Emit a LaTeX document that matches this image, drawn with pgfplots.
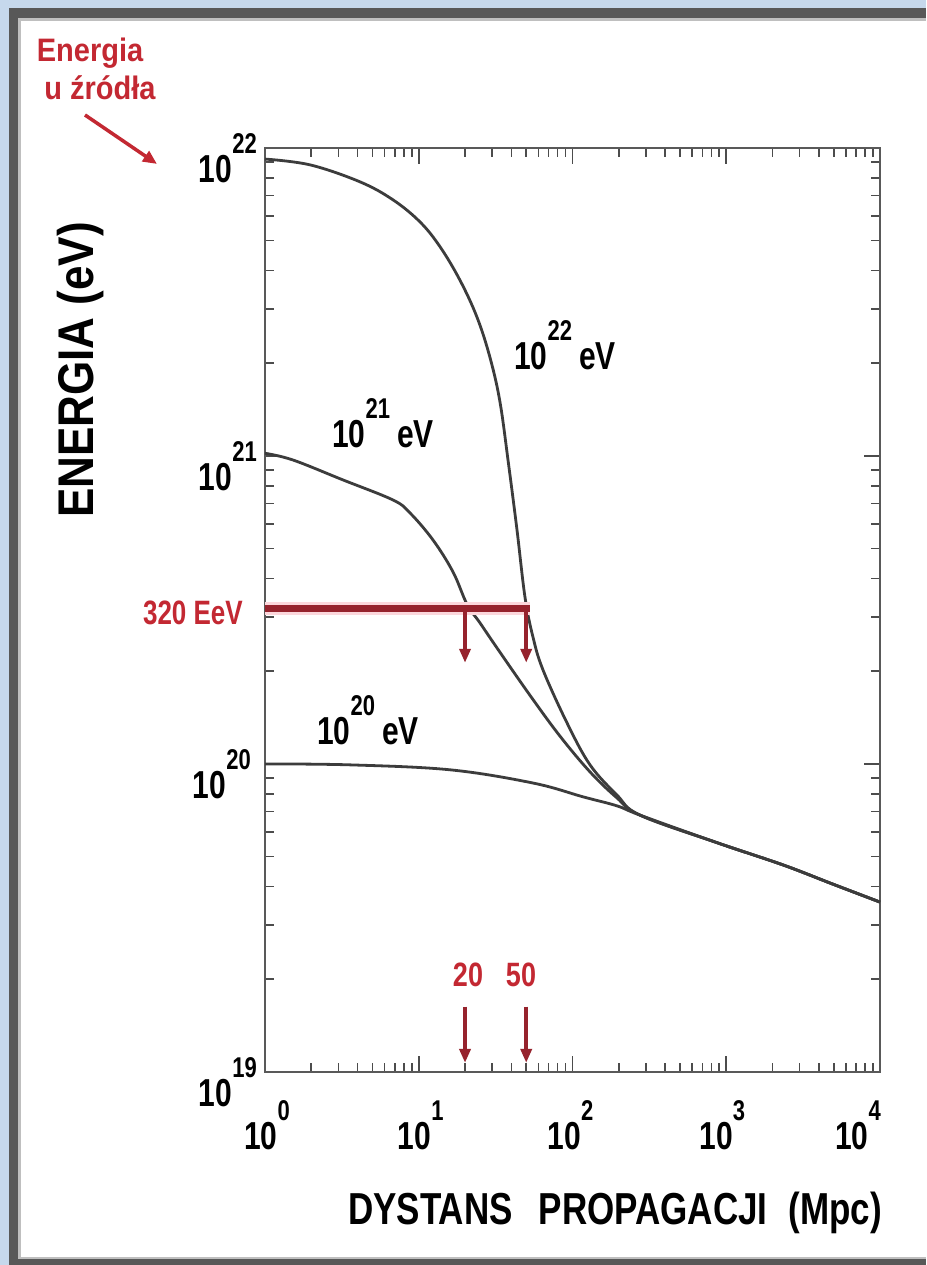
\documentclass[border=0pt]{standalone}
\usepackage{fontspec}
\setmainfont{Liberation Sans}
\usepackage{graphicx}
\usepackage{pgfplots}
\pgfplotsset{compat=1.18}
\usetikzlibrary{arrows.meta}
\definecolor{bgblue}{RGB}{198,216,236}
\definecolor{framegray}{RGB}{88,88,88}
\definecolor{curvec}{RGB}{60,60,60}
\definecolor{darkred}{RGB}{150,35,45}
\definecolor{txtred}{RGB}{195,40,50}
\definecolor{halo}{RGB}{252,215,220}
\newcommand{\tp}[1]{\scalebox{1}[1.3]{\fontsize{30}{30}\selectfont\bfseries 10\raisebox{23pt}{\fontsize{22}{22}\selectfont\bfseries #1}}}
\newcommand{\tpev}[1]{\scalebox{1}[1.3]{\fontsize{30}{30}\selectfont\bfseries 10\raisebox{23pt}{\fontsize{22}{22}\selectfont\bfseries #1}\hspace{7pt}eV}}
\begin{document}
\begin{tikzpicture}
\useasboundingbox (0pt,0pt) rectangle (926pt,1265pt);
\fill[bgblue] (0pt,0pt) rectangle (926pt,1265pt);
\fill[framegray] (9pt,0pt) rectangle (926pt,1257pt);
\fill[black!25] (18pt,6pt) rectangle (926pt,1247pt);
\fill[white] (21pt,8pt) rectangle (926pt,1244pt);
\begin{axis}[
  at={(265pt,193pt)}, anchor=south west,
  scale only axis, width=615pt, height=924pt,
  xmode=log, ymode=log,
  xmin=1, xmax=1e4, ymin=1e19, ymax=1e22,
  axis line style={line width=2.4pt, black!65},
  every tick/.style={black!70, line width=1.6pt},
  major tick length=16pt, minor tick length=9pt,
  xtick={1,10,100,1000,10000},
  xticklabels={\tp{0},\tp{1},\tp{2}\hspace*{8pt},\tp{3}\hspace*{12pt},\tp{4}\hspace*{48pt}},
  ytick={1e19,1e20,1e21,1e22},
  yticklabels={\tp{19},\tp{20}\hspace*{6pt},\tp{21},\tp{22}},
  xticklabel style={anchor=base, inner sep=0pt, yshift=-78pt, xshift=2pt},
  yticklabel style={anchor=base east, inner sep=0pt, xshift=-8pt, yshift=-35pt},
  clip=false,
]
% 10^22 eV
\addplot[curvec, line width=2.8pt, smooth, tension=0.6] coordinates {
(1,9.20e21) (1.963,8.81e21) (4.15,7.76e21) (6.81,6.78e21) (10.19,5.75e21)
(13.74,4.78e21) (18.54,3.72e21) (23.93,2.82e21) (29.04,2.09e21) (33.73,1.50e21)
(38.3,9.48e20) (43.55,5.75e20) (49.09,3.48e20) (55.34,2.58e20) (64.27,2.02e20)
(92.04,1.36e20) (130,9.93e19) (194.5,7.93e19) (274.8,6.82e19)
(871,5.55e19) (2339,4.70e19) (4943,4.07e19) (10000,3.56e19)};
% 10^21 eV
\addplot[curvec, line width=2.8pt, smooth, tension=0.6] coordinates {
(1,1.02e21) (1.52,9.70e20) (3.21,8.36e20) (6.81,7.19e20) (8.77,6.53e20)
(12.39,5.33e20) (16.71,4.20e20) (20.6,3.30e20) (25.02,2.87e20) (32.28,2.38e20)
(52.9,1.67e20) (83.0,1.23e20) (130,9.42e19) (194.5,7.76e19) (274.8,6.82e19)
(871,5.55e19) (2339,4.70e19) (4943,4.07e19) (10000,3.56e19)};
% 10^20 eV
\addplot[curvec, line width=2.8pt, smooth, tension=0.6] coordinates {
(1,1.0e20) (3.57,9.93e19) (15.96,9.57e19) (55.3,8.67e19) (117,7.82e19)
(194.5,7.31e19) (274.8,6.82e19)
(871,5.55e19) (2339,4.70e19) (4943,4.07e19) (10000,3.56e19)};
% 320 EeV marker line
\addplot[halo, line width=13pt] coordinates {(1,3.2e20) (53,3.2e20)};
\addplot[darkred, line width=7pt] coordinates {(1,3.2e20) (53,3.2e20)};
\addplot[darkred, line width=3.5pt, -{Triangle[length=14pt,width=11pt]}] coordinates {(20,3.2e20) (20,2.13e20)};
\addplot[darkred, line width=3.5pt, -{Triangle[length=14pt,width=11pt]}] coordinates {(50,3.2e20) (50,2.13e20)};
\addplot[darkred, line width=3.5pt, -{Triangle[length=14pt,width=11pt]}] coordinates {(20,1.63e19) (20,1.07e19)};
\addplot[darkred, line width=3.5pt, -{Triangle[length=14pt,width=11pt]}] coordinates {(50,1.63e19) (50,1.07e19)};
\end{axis}
% curve labels
\node[anchor=base west, inner sep=0pt] at (514pt,895pt) {\tpev{22}};
\node[anchor=base west, inner sep=0pt] at (332pt,817pt) {\tpev{21}};
\node[anchor=base west, inner sep=0pt] at (317pt,520pt) {\tpev{20}};
% red annotations
\node[anchor=base east, inner sep=0pt, text=txtred] at (243pt,640pt) {\scalebox{1}[1.3]{\fontsize{26}{26}\selectfont\bfseries 320 EeV}};
\node[anchor=base, inner sep=0pt, text=txtred] at (468pt,278pt) {\scalebox{1}[1.25]{\fontsize{27}{27}\selectfont\bfseries 20}};
\node[anchor=base, inner sep=0pt, text=txtred] at (521pt,278pt) {\scalebox{1}[1.25]{\fontsize{27}{27}\selectfont\bfseries 50}};
\node[anchor=base, inner sep=0pt, text=txtred] at (90pt,1203pt) {\scalebox{1}[1.12]{\fontsize{29}{29}\selectfont\bfseries Energia}};
\node[anchor=base, inner sep=0pt, text=txtred] at (100pt,1165pt) {\scalebox{1}[1.12]{\fontsize{29}{29}\selectfont\bfseries u źródła}};
\draw[txtred, line width=3.5pt, -{Triangle[length=14pt,width=12pt]}] (85pt,1150pt) -- (157pt,1101pt);
% axis titles
\node[anchor=base, inner sep=0pt] at (615pt,40pt) {\scalebox{1}[1.28]{\fontsize{35}{35}\selectfont\bfseries DYSTANS\hspace{26pt}PROPAGACJI\hspace{21pt}(Mpc)}};
\node[rotate=90, anchor=base, inner sep=0pt] at (93pt,895pt) {\scalebox{1}[1.14]{\fontsize{44}{44}\selectfont\bfseries ENERGIA (eV)}};
\end{tikzpicture}
\end{document}
